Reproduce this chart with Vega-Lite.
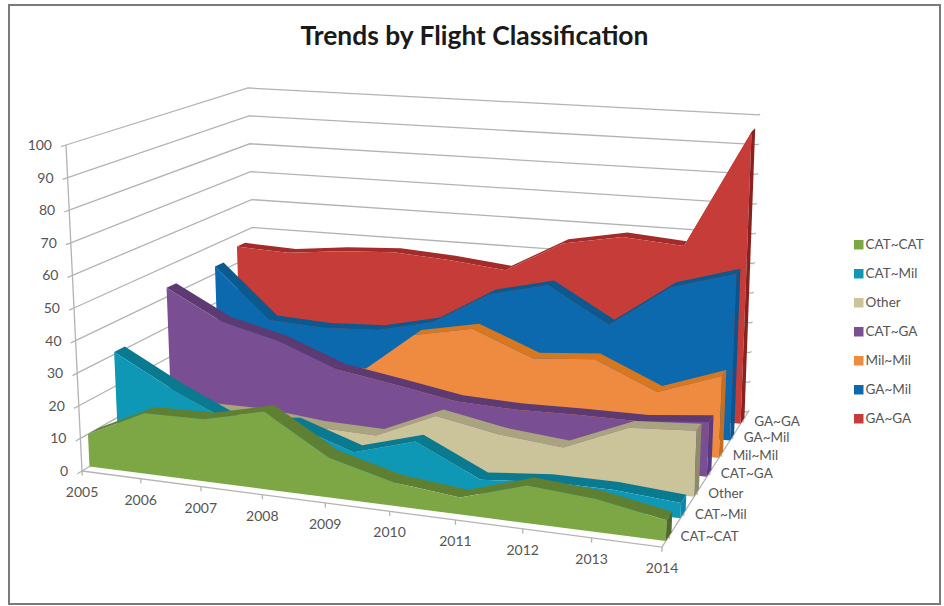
{
  "$schema": "https://vega.github.io/schema/vega-lite/v6.json",
  "width": 931,
  "height": 599,
  "padding": {"left": 9, "top": 5, "right": 4, "bottom": 2},
  "autosize": "none",
  "background": "white",
  "view": {"stroke": "#7a7a7a", "strokeWidth": 2, "fill": "white"},
  "datasets": {
    "rows": [
      {"kind": "frame"},
      {"kind": "value", "tick": 0}, {"kind": "value", "tick": 10}, {"kind": "value", "tick": 20}, {"kind": "value", "tick": 30}, {"kind": "value", "tick": 40}, {"kind": "value", "tick": 50}, {"kind": "value", "tick": 60}, {"kind": "value", "tick": 70}, {"kind": "value", "tick": 80}, {"kind": "value", "tick": 90}, {"kind": "value", "tick": 100},
      {"kind": "year", "year": 2005}, {"kind": "year", "year": 2006}, {"kind": "year", "year": 2007}, {"kind": "year", "year": 2008}, {"kind": "year", "year": 2009}, {"kind": "year", "year": 2010}, {"kind": "year", "year": 2011}, {"kind": "year", "year": 2012}, {"kind": "year", "year": 2013}, {"kind": "year", "year": 2014},
      {"kind": "depth", "series": "CAT~CAT"}, {"kind": "depth", "series": "CAT~Mil"}, {"kind": "depth", "series": "Other"}, {"kind": "depth", "series": "CAT~GA"}, {"kind": "depth", "series": "Mil~Mil"}, {"kind": "depth", "series": "GA~Mil"}, {"kind": "depth", "series": "GA~GA"},

      {"kind": "series", "series": "GA~GA", "year": 2005, "value": 45.8}, {"kind": "series", "series": "GA~GA", "year": 2006, "value": 45}, {"kind": "series", "series": "GA~GA", "year": 2007, "value": 47}, {"kind": "series", "series": "GA~GA", "year": 2008, "value": 48}, {"kind": "series", "series": "GA~GA", "year": 2009, "value": 46.8}, {"kind": "series", "series": "GA~GA", "year": 2010, "value": 44.8}, {"kind": "series", "series": "GA~GA", "year": 2011, "value": 55.3}, {"kind": "series", "series": "GA~GA", "year": 2012, "value": 59}, {"kind": "series", "series": "GA~GA", "year": 2013, "value": 57.4}, {"kind": "series", "series": "GA~GA", "year": 2014, "value": 96.7},

      {"kind": "series", "series": "GA~Mil", "year": 2005, "value": 42.5}, {"kind": "series", "series": "GA~Mil", "year": 2006, "value": 25.6}, {"kind": "series", "series": "GA~Mil", "year": 2007, "value": 24.6}, {"kind": "series", "series": "GA~Mil", "year": 2008, "value": 25.5}, {"kind": "series", "series": "GA~Mil", "year": 2009, "value": 29.8}, {"kind": "series", "series": "GA~Mil", "year": 2010, "value": 40.8}, {"kind": "series", "series": "GA~Mil", "year": 2011, "value": 45.4}, {"kind": "series", "series": "GA~Mil", "year": 2012, "value": 34}, {"kind": "series", "series": "GA~Mil", "year": 2013, "value": 48}, {"kind": "series", "series": "GA~Mil", "year": 2014, "value": 54},

      {"kind": "series", "series": "Mil~Mil", "year": 2005, "value": 12}, {"kind": "series", "series": "Mil~Mil", "year": 2006, "value": 12}, {"kind": "series", "series": "Mil~Mil", "year": 2007, "value": 13}, {"kind": "series", "series": "Mil~Mil", "year": 2008, "value": 15.5}, {"kind": "series", "series": "Mil~Mil", "year": 2009, "value": 30}, {"kind": "series", "series": "Mil~Mil", "year": 2010, "value": 33.8}, {"kind": "series", "series": "Mil~Mil", "year": 2011, "value": 26}, {"kind": "series", "series": "Mil~Mil", "year": 2012, "value": 27.6}, {"kind": "series", "series": "Mil~Mil", "year": 2013, "value": 19}, {"kind": "series", "series": "Mil~Mil", "year": 2014, "value": 26},

      {"kind": "series", "series": "CAT~GA", "year": 2005, "value": 43}, {"kind": "series", "series": "CAT~GA", "year": 2006, "value": 33.5}, {"kind": "series", "series": "CAT~GA", "year": 2007, "value": 29}, {"kind": "series", "series": "CAT~GA", "year": 2008, "value": 21.7}, {"kind": "series", "series": "CAT~GA", "year": 2009, "value": 18.6}, {"kind": "series", "series": "CAT~GA", "year": 2010, "value": 15.3}, {"kind": "series", "series": "CAT~GA", "year": 2011, "value": 14.6}, {"kind": "series", "series": "CAT~GA", "year": 2012, "value": 15}, {"kind": "series", "series": "CAT~GA", "year": 2013, "value": 15}, {"kind": "series", "series": "CAT~GA", "year": 2014, "value": 17},

      {"kind": "series", "series": "Other", "year": 2005, "value": 10}, {"kind": "series", "series": "Other", "year": 2006, "value": 10}, {"kind": "series", "series": "Other", "year": 2007, "value": 10}, {"kind": "series", "series": "Other", "year": 2008, "value": 8.2}, {"kind": "series", "series": "Other", "year": 2009, "value": 7.7}, {"kind": "series", "series": "Other", "year": 2010, "value": 15.9}, {"kind": "series", "series": "Other", "year": 2011, "value": 12.3}, {"kind": "series", "series": "Other", "year": 2012, "value": 10.5}, {"kind": "series", "series": "Other", "year": 2013, "value": 18.7}, {"kind": "series", "series": "Other", "year": 2014, "value": 20},

      {"kind": "series", "series": "CAT~Mil", "year": 2005, "value": 30.8}, {"kind": "series", "series": "CAT~Mil", "year": 2006, "value": 21}, {"kind": "series", "series": "CAT~Mil", "year": 2007, "value": 12.5}, {"kind": "series", "series": "CAT~Mil", "year": 2008, "value": 14.4}, {"kind": "series", "series": "CAT~Mil", "year": 2009, "value": 8}, {"kind": "series", "series": "CAT~Mil", "year": 2010, "value": 13.5}, {"kind": "series", "series": "CAT~Mil", "year": 2011, "value": 4.2}, {"kind": "series", "series": "CAT~Mil", "year": 2012, "value": 6}, {"kind": "series", "series": "CAT~Mil", "year": 2013, "value": 6}, {"kind": "series", "series": "CAT~Mil", "year": 2014, "value": 4.5},

      {"kind": "series", "series": "CAT~CAT", "year": 2005, "value": 10}, {"kind": "series", "series": "CAT~CAT", "year": 2006, "value": 18.6}, {"kind": "series", "series": "CAT~CAT", "year": 2007, "value": 19}, {"kind": "series", "series": "CAT~CAT", "year": 2008, "value": 23.5}, {"kind": "series", "series": "CAT~CAT", "year": 2009, "value": 12}, {"kind": "series", "series": "CAT~CAT", "year": 2010, "value": 7}, {"kind": "series", "series": "CAT~CAT", "year": 2011, "value": 5}, {"kind": "series", "series": "CAT~CAT", "year": 2012, "value": 11}, {"kind": "series", "series": "CAT~CAT", "year": 2013, "value": 9.6}, {"kind": "series", "series": "CAT~CAT", "year": 2014, "value": 6}
    ]
  },
  "data": {"name": "rows"},
  "transform": [
    {"calculate": "indexof(['CAT~CAT','CAT~Mil','Other','CAT~GA','Mil~Mil','GA~Mil','GA~GA'], datum.series)", "as": "slot"},
    {"calculate": "(datum.year-2005)/9", "as": "along"},
    {"calculate": "(datum.slot+0.25)/7", "as": "front"},
    {"calculate": "datum.front+0.38/7", "as": "back"},
    {"calculate": "datum.kind=='series' ? [{part:'top',seq:datum.along,u:datum.along,w:datum.front,h:datum.value},{part:'top',seq:9-datum.along,u:datum.along,w:datum.back,h:datum.value},{part:'face',seq:datum.along,u:datum.along,w:datum.front,h:datum.value},{part:'face',seq:9-datum.along,u:datum.along,w:datum.front,h:0},{part:'side',seq:0,u:1,w:datum.front,h:0},{part:'side',seq:1,u:1,w:datum.front,h:datum.value},{part:'side',seq:2,u:1,w:datum.back,h:datum.value},{part:'side',seq:3,u:1,w:datum.back,h:0}] : datum.kind=='value' ? [{part:'grid',seq:0,u:0,w:0,h:datum.tick},{part:'grid',seq:1,u:0,w:1,h:datum.tick},{part:'grid',seq:2,u:1,w:1,h:datum.tick},{part:'tick',seq:0,u:0,w:0,h:datum.tick},{part:'tick',seq:1,u:0,w:-0.022,h:datum.tick},{part:'end',seq:0,u:1,w:1,h:datum.tick},{part:'end',seq:1,u:1,w:1.015,h:datum.tick},{part:'label',seq:0,u:0,w:0,h:datum.tick}] : datum.kind=='year' ? [{part:'tick',seq:0,u:datum.along,w:0,h:0},{part:'tick',seq:1,u:datum.along,w:0,h:-1.4},{part:'label',seq:0,u:datum.along,w:0,h:0}] : datum.kind=='depth' ? [{part:'tick',seq:0,u:1,w:(datum.slot+0.5)/7,h:0},{part:'tick',seq:1,u:1,w:(datum.slot+0.5)/7,h:-1},{part:'label',seq:0,u:1,w:(datum.slot+0.5)/7,h:0}] : [{part:'left',seq:0,u:0,w:0,h:0},{part:'left',seq:1,u:0,w:0,h:100},{part:'floor',seq:0,u:0,w:0,h:0},{part:'floor',seq:1,u:1,w:0,h:0},{part:'floor',seq:2,u:1,w:1,h:0}]", "as": "vertices"},
    {"flatten": ["vertices"], "as": ["vertex"]},
    {"filter": "datum.vertex.part!='side' || datum.year==2014"},
    {"calculate": "datum.vertex.part", "as": "part"},
    {"calculate": "datum.vertex.seq", "as": "seq"},
    {"calculate": "datum.vertex.w", "as": "depth"},
    {"calculate": "datum.vertex.h/100", "as": "rise"},
    {"calculate": "datum.vertex.u+0.072*datum.vertex.u*(1-datum.vertex.u)", "as": "run"},
    {"calculate": "1-0.16*datum.run+0.209*datum.depth", "as": "floorW"},
    {"calculate": "(82+474.1*datum.run+228.7*datum.depth)/datum.floorW", "as": "floorX"},
    {"calculate": "(471-11.5*datum.run-27.3*datum.depth)/datum.floorW", "as": "floorY"},
    {"calculate": "1-0.2468*datum.run+0.2323*datum.depth", "as": "roofW"},
    {"calculate": "(66+442.4*datum.run+239.6*datum.depth)/datum.roofW", "as": "roofX"},
    {"calculate": "(145+4.89*datum.run-36.6*datum.depth)/datum.roofW", "as": "roofY"},
    {"calculate": "datum.floorX+datum.rise*(datum.roofX-datum.floorX)", "as": "screenX"},
    {"calculate": "datum.floorY+datum.rise*(datum.roofY-datum.floorY)", "as": "screenY"},
    {"calculate": "datum.part=='face' ? datum.series : datum.series+' '+datum.part", "as": "paint"},
    {"calculate": "datum.kind+'|'+datum.part+'|'+(datum.kind=='value' ? datum.tick : datum.kind=='year' ? datum.year : datum.series)", "as": "path"},
    {"calculate": "datum.kind=='value' ? ''+datum.tick : datum.kind=='year' ? ''+datum.year : datum.series", "as": "caption"}
  ],
  "encoding": {
    "x": {"field": "screenX", "type": "quantitative", "axis": null, "scale": {"domain": [9, 940], "nice": false, "zero": false}},
    "y": {"field": "screenY", "type": "quantitative", "axis": null, "scale": {"domain": [604, 5], "nice": false, "zero": false}}
  },
  "layer": [
    {
      "transform": [{"filter": "datum.kind!='series' && datum.part!='label'"}],
      "mark": {"type": "line", "stroke": "#b3b3b3", "strokeWidth": 1.3, "interpolate": "linear"},
      "encoding": {"detail": {"field": "path"}, "order": {"field": "seq", "type": "quantitative"}}
    },
    {
      "transform": [{"filter": "datum.kind=='series'"}],
      "mark": {"type": "line", "interpolate": "linear", "strokeWidth": 0},
      "encoding": {
        "detail": {"field": "paint"},
        "order": {"field": "seq", "type": "quantitative"},
        "fill": {
          "field": "paint",
          "type": "nominal",
          "scale": {
            "domain": ["CAT~CAT", "CAT~Mil", "Other", "CAT~GA", "Mil~Mil", "GA~Mil", "GA~GA",
              "CAT~CAT top", "CAT~Mil top", "Other top", "CAT~GA top", "Mil~Mil top", "GA~Mil top", "GA~GA top",
              "CAT~CAT side", "CAT~Mil side", "Other side", "CAT~GA side", "Mil~Mil side", "GA~Mil side", "GA~GA side"],
            "range": ["#7da645", "#0f98b6", "#cbc49b", "#7a4e92", "#ef8a41", "#0c69ae", "#c63c38",
              "#5f8033", "#0a7a90", "#a9a37f", "#5d3a72", "#d9771f", "#0b5a8f", "#a32c2a",
              "#4f6a28", "#0b8aa6", "#8f8a6a", "#5b3a85", "#c66f20", "#08558f", "#8a211e"]
          },
          "legend": {
            "values": ["CAT~CAT", "CAT~Mil", "Other", "CAT~GA", "Mil~Mil", "GA~Mil", "GA~GA"],
            "title": null,
            "orient": "none",
            "legendX": 843,
            "legendY": 233,
            "symbolType": "square",
            "symbolSize": 90,
            "symbolStrokeWidth": 0,
            "labelFont": "Lato",
            "labelFontSize": 13.5,
            "labelColor": "#555555",
            "labelOffset": 0,
            "rowPadding": 14
          }
        }
      }
    },
    {
      "transform": [{"filter": "datum.kind=='value' && datum.part=='label'"}],
      "mark": {"type": "text", "align": "right", "baseline": "middle", "dx": -14, "dy": 1, "font": "Lato", "fontSize": 14, "fill": "#555555"},
      "encoding": {"text": {"field": "caption"}}
    },
    {
      "transform": [{"filter": "datum.kind=='year' && datum.part=='label'"}],
      "mark": {"type": "text", "align": "center", "baseline": "middle", "dy": 22, "font": "Lato", "fontSize": 14, "fill": "#555555"},
      "encoding": {"text": {"field": "caption"}}
    },
    {
      "transform": [{"filter": "datum.kind=='depth' && datum.part=='label'"}],
      "mark": {"type": "text", "align": "left", "baseline": "middle", "dx": 11, "dy": 2, "font": "Lato", "fontSize": 13.5, "fill": "#555555"},
      "encoding": {"text": {"field": "caption"}}
    },
    {
      "description": "Chart heading, centred over the frame",
      "transform": [{"filter": "datum.kind=='frame' && datum.part=='left' && datum.seq==0"}],
      "mark": {"type": "text", "text": "Trends by Flight Classification", "align": "center", "baseline": "middle", "font": "Lato", "fontSize": 26.4, "fontWeight": "bold", "fill": "#1a1a1a"},
      "encoding": {
        "x": {"value": {"expr": "width/2"}},
        "y": {"value": 32}
      }
    }
  ]
}
